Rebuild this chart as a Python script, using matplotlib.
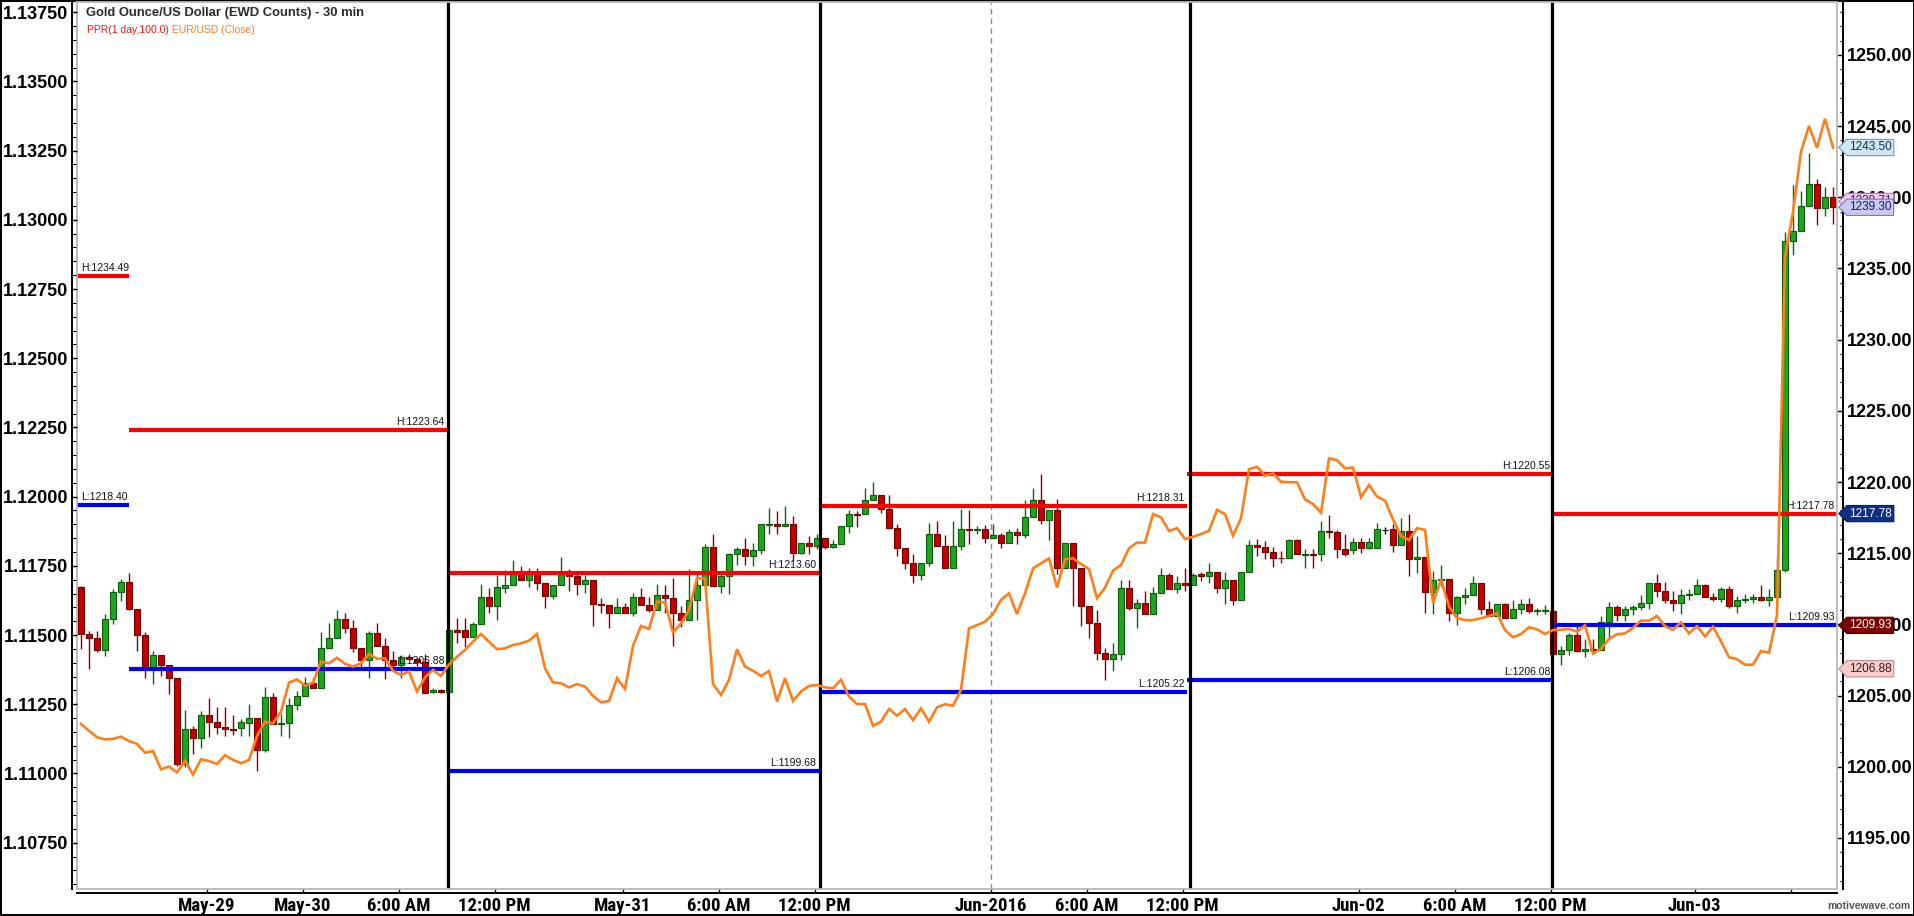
import matplotlib
matplotlib.use("Agg")
import matplotlib.pyplot as plt
from matplotlib import font_manager
from matplotlib.path import Path
from matplotlib.patches import Rectangle
from matplotlib.transforms import blended_transform_factory
from matplotlib.ticker import FixedLocator, MultipleLocator, FormatStrFormatter
import numpy as np

# ---------------- data (Gold 30-min OHLC, bar index 0..219) ----------------
opens = [
    1212.63, 1209.30, 1209.02, 1208.18, 1210.36, 1212.28, 1212.96, 1211.06, 1209.23, 1206.89,
    1207.83, 1207.12, 1206.21, 1200.17, 1202.63, 1202.04, 1203.64, 1203.17, 1202.82, 1202.67,
    1202.70, 1203.10, 1203.40, 1201.18, 1204.90, 1203.03, 1203.10, 1204.34, 1204.97, 1205.86,
    1205.56, 1208.32, 1209.02, 1210.36, 1209.72, 1208.37, 1207.48, 1209.37, 1208.46, 1207.48,
    1207.12, 1207.71, 1207.55, 1207.38, 1205.25, 1205.37, 1205.22, 1209.58, 1209.58, 1209.11,
    1210.00, 1211.92, 1211.27, 1212.58, 1212.74, 1213.52, 1213.09, 1213.70, 1212.88, 1211.97,
    1212.74, 1213.47, 1213.37, 1212.86, 1213.09, 1211.41, 1211.34, 1210.82, 1211.20, 1210.82,
    1211.90, 1211.34, 1210.99, 1212.04, 1211.88, 1210.82, 1210.28, 1211.69, 1212.77, 1215.44,
    1212.70, 1213.40, 1214.97, 1215.27, 1214.80, 1215.20, 1216.98, 1217.03, 1216.89, 1217.03,
    1215.04, 1215.74, 1215.51, 1216.04, 1215.44, 1215.63, 1216.91, 1217.73, 1217.73, 1218.72,
    1219.09, 1218.08, 1216.80, 1215.34, 1214.34, 1213.45, 1214.34, 1216.33, 1215.51, 1213.99,
    1215.51, 1216.68, 1216.61, 1216.68, 1216.05, 1216.26, 1215.74, 1216.49, 1216.26, 1217.55,
    1218.72, 1217.31, 1218.01, 1213.99, 1215.74, 1213.99, 1211.29, 1210.12, 1208.01, 1207.55,
    1207.90, 1212.58, 1211.18, 1211.53, 1210.75, 1212.23, 1213.45, 1212.51, 1212.93, 1212.74,
    1213.51, 1213.40, 1213.68, 1212.53, 1213.09, 1211.69, 1213.68, 1215.55, 1215.46, 1215.08,
    1214.68, 1214.64, 1215.90, 1214.87, 1214.92, 1214.92, 1216.56, 1216.49, 1215.27, 1215.20,
    1215.78, 1215.39, 1215.39, 1216.60, 1216.67, 1215.57, 1216.56, 1214.57, 1214.73, 1212.29,
    1213.09, 1213.16, 1210.82, 1211.92, 1212.06, 1212.88, 1211.05, 1210.58, 1211.40, 1210.47,
    1211.05, 1211.40, 1210.94, 1210.94, 1210.96, 1207.95, 1208.20, 1209.23, 1208.13, 1208.28,
    1208.18, 1210.19, 1211.22, 1210.65, 1211.11, 1211.22, 1211.47, 1212.91, 1212.32, 1211.68,
    1211.47, 1212.07, 1212.14, 1212.76, 1211.89, 1211.81, 1212.45, 1211.29, 1211.68, 1211.81,
    1211.89, 1211.68, 1211.89, 1213.79, 1236.90, 1237.60, 1239.40, 1240.95, 1239.22, 1240.00,
]
highs = [
    1212.70, 1209.54, 1209.54, 1210.71, 1212.51, 1213.17, 1213.60, 1211.06, 1209.49, 1208.13,
    1207.83, 1207.12, 1206.21, 1203.96, 1202.86, 1203.92, 1204.85, 1204.22, 1204.22, 1203.64,
    1203.33, 1204.38, 1203.40, 1205.60, 1205.16, 1203.73, 1204.81, 1205.32, 1206.31, 1206.21,
    1209.49, 1210.12, 1211.01, 1210.83, 1210.29, 1208.37, 1209.54, 1210.08, 1209.02, 1208.13,
    1207.85, 1207.90, 1207.67, 1207.90, 1205.56, 1205.45, 1209.58, 1210.47, 1210.42, 1210.17,
    1212.81, 1212.58, 1213.47, 1213.80, 1214.50, 1214.10, 1213.94, 1213.94, 1212.88, 1212.74,
    1214.73, 1213.87, 1213.70, 1213.47, 1213.09, 1211.83, 1211.34, 1211.83, 1211.48, 1212.18,
    1212.53, 1211.92, 1212.81, 1212.77, 1213.23, 1211.29, 1213.87, 1213.56, 1215.62, 1216.37,
    1213.70, 1215.04, 1215.44, 1216.09, 1215.74, 1217.03, 1218.15, 1217.97, 1218.31, 1217.61,
    1215.74, 1216.21, 1216.33, 1216.04, 1215.91, 1216.91, 1218.01, 1217.97, 1219.56, 1220.00,
    1219.09, 1219.09, 1217.03, 1215.34, 1214.97, 1214.34, 1217.15, 1217.26, 1216.28, 1217.26,
    1218.08, 1218.01, 1216.91, 1216.96, 1217.03, 1216.45, 1216.73, 1216.80, 1218.72, 1219.56,
    1220.55, 1218.01, 1218.79, 1215.74, 1215.74, 1213.99, 1211.29, 1210.99, 1208.37, 1208.72,
    1213.10, 1213.10, 1211.76, 1212.35, 1212.63, 1213.94, 1213.63, 1213.40, 1213.94, 1213.63,
    1213.70, 1214.33, 1213.68, 1213.68, 1213.09, 1213.68, 1215.90, 1215.97, 1215.85, 1215.43,
    1215.15, 1215.97, 1215.97, 1215.27, 1215.27, 1217.26, 1217.68, 1216.60, 1216.37, 1216.09,
    1216.09, 1216.09, 1217.14, 1216.84, 1217.03, 1217.49, 1217.78, 1216.21, 1214.73, 1213.75,
    1214.17, 1213.16, 1211.99, 1212.58, 1213.40, 1212.88, 1211.64, 1211.40, 1211.52, 1211.69,
    1211.76, 1211.87, 1211.17, 1211.36, 1211.00, 1208.46, 1209.36, 1210.08, 1208.98, 1208.98,
    1210.60, 1211.55, 1211.37, 1211.29, 1211.37, 1212.07, 1212.91, 1213.53, 1212.97, 1212.32,
    1212.50, 1212.50, 1213.17, 1212.84, 1212.19, 1212.66, 1212.71, 1211.99, 1212.14, 1212.14,
    1212.76, 1212.50, 1214.64, 1237.55, 1240.89, 1240.43, 1243.08, 1241.28, 1240.71, 1240.71,
]
lows = [
    1208.30, 1206.84, 1208.06, 1207.78, 1210.05, 1211.64, 1210.99, 1208.13, 1206.26, 1205.84,
    1206.37, 1205.13, 1200.03, 1199.98, 1200.87, 1201.34, 1202.09, 1202.28, 1202.16, 1202.21,
    1202.16, 1202.16, 1199.68, 1201.06, 1203.03, 1202.16, 1202.00, 1203.96, 1204.97, 1205.56,
    1205.56, 1208.32, 1209.02, 1209.42, 1208.06, 1206.96, 1206.21, 1208.46, 1206.14, 1206.84,
    1206.26, 1207.55, 1207.08, 1205.20, 1205.16, 1205.20, 1205.22, 1208.71, 1208.43, 1209.11,
    1210.00, 1210.82, 1210.33, 1212.23, 1212.74, 1213.09, 1212.65, 1212.39, 1211.17, 1211.76,
    1212.74, 1212.34, 1212.04, 1212.23, 1209.89, 1210.82, 1209.72, 1210.82, 1210.82, 1210.59,
    1211.34, 1210.89, 1210.99, 1210.82, 1208.48, 1209.81, 1210.28, 1210.28, 1212.77, 1212.70,
    1212.23, 1212.16, 1214.17, 1214.17, 1214.10, 1214.97, 1216.37, 1216.37, 1216.89, 1214.45,
    1214.97, 1214.97, 1215.27, 1215.27, 1215.34, 1215.63, 1216.45, 1216.87, 1217.73, 1218.72,
    1217.80, 1216.68, 1214.81, 1213.92, 1212.93, 1213.10, 1214.10, 1215.51, 1213.99, 1213.99,
    1215.20, 1215.67, 1216.37, 1215.74, 1216.05, 1215.39, 1215.74, 1215.67, 1216.05, 1217.55,
    1217.03, 1215.91, 1213.52, 1213.99, 1211.29, 1209.89, 1209.07, 1207.48, 1206.08, 1206.73,
    1207.48, 1210.99, 1209.77, 1210.75, 1210.75, 1212.23, 1212.51, 1212.23, 1212.35, 1212.74,
    1213.04, 1212.93, 1212.22, 1211.40, 1211.34, 1211.69, 1213.68, 1214.80, 1214.57, 1214.03,
    1214.33, 1214.64, 1214.92, 1213.93, 1213.93, 1214.45, 1216.04, 1214.64, 1214.80, 1214.92,
    1215.03, 1215.27, 1215.34, 1216.32, 1215.11, 1215.57, 1213.40, 1213.63, 1210.82, 1210.70,
    1212.69, 1210.23, 1209.93, 1211.40, 1212.06, 1210.70, 1210.58, 1210.58, 1210.47, 1210.47,
    1210.70, 1210.82, 1210.66, 1210.70, 1207.90, 1207.17, 1207.82, 1208.08, 1207.69, 1208.08,
    1208.18, 1209.11, 1210.26, 1210.26, 1210.65, 1211.04, 1211.11, 1211.89, 1211.47, 1210.96,
    1210.70, 1211.68, 1212.14, 1211.89, 1211.63, 1211.55, 1211.17, 1210.78, 1211.47, 1211.47,
    1211.63, 1211.29, 1211.89, 1213.69, 1235.93, 1237.60, 1239.40, 1238.06, 1238.66, 1238.14,
]
closes = [
    1209.30, 1209.02, 1208.18, 1210.36, 1212.28, 1212.96, 1211.06, 1209.23, 1206.89, 1207.83,
    1207.12, 1206.21, 1200.17, 1202.63, 1202.04, 1203.64, 1203.17, 1202.82, 1202.67, 1202.61,
    1203.14, 1203.40, 1201.18, 1204.90, 1203.03, 1203.10, 1204.34, 1204.97, 1205.86, 1205.56,
    1208.32, 1209.02, 1210.36, 1209.72, 1208.37, 1207.48, 1209.37, 1208.46, 1207.48, 1207.12,
    1207.71, 1207.55, 1207.38, 1205.20, 1205.37, 1205.25, 1209.58, 1209.49, 1209.11, 1210.00,
    1211.92, 1211.27, 1212.62, 1212.74, 1213.52, 1213.09, 1213.70, 1212.88, 1211.97, 1212.74,
    1213.52, 1213.37, 1212.86, 1213.09, 1211.41, 1211.34, 1210.82, 1211.20, 1210.82, 1211.90,
    1211.34, 1210.99, 1212.04, 1211.88, 1210.82, 1210.28, 1211.69, 1212.77, 1215.44, 1212.70,
    1213.40, 1214.97, 1215.27, 1214.80, 1215.20, 1217.03, 1217.03, 1216.89, 1217.03, 1215.04,
    1215.74, 1215.51, 1216.04, 1215.44, 1215.63, 1216.91, 1217.73, 1217.66, 1218.72, 1219.09,
    1218.08, 1216.80, 1215.34, 1214.34, 1213.45, 1214.34, 1216.33, 1215.51, 1213.99, 1215.51,
    1216.68, 1216.61, 1216.68, 1216.05, 1216.26, 1215.74, 1216.49, 1216.26, 1217.55, 1218.72,
    1217.31, 1218.01, 1213.99, 1215.74, 1213.99, 1211.29, 1210.12, 1208.01, 1207.55, 1207.90,
    1212.58, 1211.18, 1211.53, 1210.75, 1212.23, 1213.45, 1212.51, 1212.93, 1212.74, 1213.45,
    1213.40, 1213.68, 1212.53, 1213.09, 1211.69, 1213.68, 1215.55, 1215.46, 1215.08, 1214.68,
    1214.64, 1215.90, 1214.92, 1214.92, 1214.87, 1216.56, 1216.49, 1215.27, 1214.92, 1215.78,
    1215.39, 1215.78, 1216.67, 1216.60, 1215.57, 1216.56, 1214.57, 1214.73, 1212.29, 1213.09,
    1213.16, 1210.82, 1211.92, 1212.06, 1212.88, 1211.05, 1210.58, 1211.40, 1210.47, 1211.05,
    1211.40, 1210.94, 1210.98, 1210.98, 1207.95, 1208.20, 1209.23, 1208.13, 1208.28, 1208.18,
    1210.19, 1211.22, 1210.65, 1211.11, 1211.22, 1211.47, 1212.91, 1212.32, 1211.68, 1211.47,
    1212.07, 1212.14, 1212.76, 1211.89, 1211.81, 1212.45, 1211.29, 1211.68, 1211.81, 1211.89,
    1211.68, 1211.89, 1213.79, 1236.90, 1237.60, 1239.40, 1240.95, 1239.22, 1240.00, 1239.30,
]
# EUR/USD close (left axis)
eurusd = [
    1.11179, 1.11154, 1.11131, 1.11123, 1.11125, 1.11133, 1.11117, 1.11107, 1.11075, 1.11081,
    1.11015, 1.11025, 1.11004, 1.11046, 1.10996, 1.11051, 1.11045, 1.11034, 1.11066, 1.11049,
    1.11037, 1.11049, 1.11135, 1.11187, 1.11181, 1.11223, 1.11328, 1.11340, 1.11317, 1.11328,
    1.11404, 1.11398, 1.11418, 1.11396, 1.11386, 1.11398, 1.11432, 1.11414, 1.11416, 1.11371,
    1.11356, 1.11368, 1.11296, 1.11347, 1.11374, 1.11352, 1.11394, 1.11422, 1.11446, 1.11476,
    1.11504, 1.11476, 1.11449, 1.11452, 1.11464, 1.11470, 1.11480, 1.11504, 1.11380, 1.11329,
    1.11326, 1.11311, 1.11323, 1.11314, 1.11280, 1.11257, 1.11262, 1.11344, 1.11305, 1.11461,
    1.11533, 1.11522, 1.11621, 1.11618, 1.11509, 1.11542, 1.11591, 1.11705, 1.11705, 1.11323,
    1.11284, 1.11338, 1.11449, 1.11386, 1.11371, 1.11352, 1.11370, 1.11260, 1.11344, 1.11262,
    1.11296, 1.11316, 1.11320, 1.11311, 1.11308, 1.11338, 1.11278, 1.11251, 1.11251, 1.11172,
    1.11187, 1.11233, 1.11209, 1.11233, 1.11193, 1.11235, 1.11187, 1.11239, 1.11250, 1.11245,
    1.11302, 1.11524, 1.11536, 1.11548, 1.11576, 1.11627, 1.11651, 1.11576, 1.11651, 1.11741,
    1.11759, 1.11777, 1.11672, 1.11774, 1.11777, 1.11757, 1.11738, 1.11633, 1.11671, 1.11733,
    1.11753, 1.11813, 1.11834, 1.11834, 1.11937, 1.11925, 1.11876, 1.11886, 1.11847, 1.11855,
    1.11865, 1.11877, 1.11952, 1.11937, 1.11859, 1.11922, 1.12099, 1.12108, 1.12076, 1.12084,
    1.12054, 1.12052, 1.12052, 1.11990, 1.11973, 1.11942, 1.12138, 1.12132, 1.12102, 1.12105,
    1.11998, 1.12042, 1.12000, 1.11986, 1.11918, 1.11858, 1.11843, 1.11886, 1.11880, 1.11615,
    1.11701, 1.11603, 1.11561, 1.11554, 1.11554, 1.11561, 1.11569, 1.11578, 1.11518, 1.11492,
    1.11504, 1.11528, 1.11521, 1.11504, 1.11518, 1.11519, 1.11522, 1.11512, 1.11535, 1.11433,
    1.11450, 1.11486, 1.11503, 1.11506, 1.11526, 1.11552, 1.11552, 1.11569, 1.11532, 1.11519,
    1.11546, 1.11506, 1.11532, 1.11495, 1.11530, 1.11477, 1.11420, 1.11413, 1.11393, 1.11393,
    1.11442, 1.11436, 1.11572, 1.12863, 1.13028, 1.13246, 1.13339, 1.13260, 1.13365, 1.13261,
]

# PPR (prior period range) levels per session
ppr_high = [1234.49, 1223.64, 1213.60, 1218.31, 1220.55, 1217.78]
ppr_low = [1218.40, 1206.88, 1199.68, 1205.22, 1206.08, 1209.93]
ppr_edges = [-0.5, 6.0, 45.8, 92.2, 138.3, 184.0, 219.5]
session_lines = [45.9, 92.4, 138.6, 183.9]
month_line = 113.7

# x ticks (bar positions) and labels
tick_pos = [15.7, 27.7, 39.7, 51.7, 67.7, 79.7, 91.7, 113.7, 125.7, 137.7,
            159.7, 171.7, 183.7, 201.7, 213.7]
tick_labels = ["May-29", "May-30", "6:00 AM", "12:00 PM", "May-31", "6:00 AM",
               "12:00 PM", "Jun-2016", "6:00 AM", "12:00 PM", "Jun-02", "6:00 AM",
               "12:00 PM", "Jun-03", ""]

gold_ticks = [1195, 1200, 1205, 1210, 1215, 1220, 1225, 1230, 1235, 1240, 1245, 1250]
eur_ticks = [1.10750, 1.11000, 1.11250, 1.11500, 1.11750, 1.12000, 1.12250,
             1.12500, 1.12750, 1.13000, 1.13250, 1.13500, 1.13750]

# right-axis price tags: value, face, edge, text colour
tag_values = [1243.50, 1239.71, 1239.30, 1217.78, 1209.93, 1206.88]
tag_faces = ["#cfe7f5", "#f6c9f1", "#c9c9f7", "#0d2f86", "#7d0000", "#f8cccc"]
tag_edges = ["#6d9ab8", "#b77ab2", "#7676c2", "#0a2060", "#500000", "#c48a8a"]
tag_texts = ["#15304a", "#402040", "#1a1a50", "#ffffff", "#ffffff", "#3a1a1a"]

# ---------------- fonts ----------------
PX = 0.72  # points per pixel at dpi 100
entries = font_manager.fontManager.ttflist
names = {f.name for f in entries}
plt.rcParams["font.family"] = ["Liberation Sans", "DejaVu Sans"]

narrow_fp = None
for nm in ("Liberation Sans Narrow", "Arial Narrow", "Roboto Condensed",
           "Open Sans Condensed", "Nimbus Sans Narrow", "DejaVu Sans Condensed"):
    if nm in names:
        narrow_fp = font_manager.FontProperties(family=nm, weight="bold", size=13.5)
        break
if narrow_fp is None:
    cond = [f for f in entries if str(f.stretch) in ("condensed", "semi-condensed")
            and f.name in ("DejaVu Sans", "Open Sans", "Roboto", "Noto Sans", "Liberation Sans")]
    if cond:
        narrow_fp = font_manager.FontProperties(family=cond[0].name, weight="bold",
                                                stretch=cond[0].stretch, size=12)
if narrow_fp is None:
    narrow_fp = font_manager.FontProperties(family="Liberation Sans", weight="bold", size=11.5)
axis_fp = font_manager.FontProperties(family="Liberation Sans", weight="bold", size=13)

# ---------------- figure ----------------
W, H = 1915, 916
fig = plt.figure(figsize=(W / 100, H / 100), dpi=100)
fig.patch.set_facecolor("white")
fig.patch.set_edgecolor("black")
fig.patch.set_linewidth(1.5)

ax = fig.add_axes([77 / W, (H - 889) / H, 1760 / W, 887 / H])
ax2 = ax.twinx()

n = len(opens)
bars = np.arange(n)
o = np.array(opens); c = np.array(closes); h = np.array(highs); l = np.array(lows)

ax.set_xlim(-0.5, n - 0.5)
ax.set_ylim(1191.41, 1253.72)
ax2.set_ylim(1.105827, 1.137868)

up = c > o
down = c < o
body_col = np.where(up, "#1fa51f", np.where(down, "#c40000", "#000000"))
edge_col = np.where(up, "#0b5a0b", np.where(down, "#6e0000", "#000000"))
wick_col = np.where(up, "#0b650b", np.where(down, "#870000", "#000000"))

ax.vlines(bars, l, h, colors=wick_col, lw=1.0, zorder=2)
ax.bar(bars, c - o, bottom=o, width=0.72, color=body_col, edgecolor=edge_col,
       linewidth=0.8, zorder=3)

# PPR lines and labels
for k in range(len(ppr_high)):
    x0, x1 = ppr_edges[k], ppr_edges[k + 1]
    ax.hlines(ppr_high[k], x0, x1, colors="#ff0000", lw=3.0, zorder=4)
    ax.hlines(ppr_low[k], x0, x1, colors="#0000ff", lw=3.0, zorder=4)
    for val, pre in ((ppr_high[k], "H:"), (ppr_low[k], "L:")):
        if k == 0:
            ax.annotate(f"{pre}{val:.2f}", xy=(x0, val), xytext=(3, 2.2),
                        textcoords="offset points", ha="left", va="bottom",
                        fontsize=7.5, color="#111111", zorder=6)
        else:
            ax.annotate(f"{pre}{val:.2f}", xy=(x1, val), xytext=(-2, 2.2),
                        textcoords="offset points", ha="right", va="bottom",
                        fontsize=7.5, color="#111111", zorder=6)

for xl in session_lines:
    ax.axvline(xl, color="black", lw=2.3, zorder=5)
ax.axvline(month_line, color="#8a8a8a", lw=1.0, ls=(0, (4, 3)), zorder=1)

# EUR/USD line on left axis
ax2.plot(bars, eurusd, color="#ff7d1a", lw=1.9, zorder=3, solid_joinstyle="miter")

# plot frame
ax.add_patch(Rectangle((0, 0), 1, 1, transform=ax.transAxes, fill=False,
                       ec="#b8b8b8", lw=1.3, zorder=7, clip_on=False))

# ---------------- axes styling ----------------
for s in ("left", "top"):
    ax.spines[s].set_visible(False)
for s in ("right", "top", "bottom"):
    ax2.spines[s].set_visible(False)
ax.spines["right"].set_position(("outward", 6 * PX))
ax.spines["bottom"].set_position(("outward", 4 * PX))
ax2.spines["left"].set_position(("outward", 5 * PX))
for sp in (ax.spines["right"], ax.spines["bottom"], ax2.spines["left"]):
    sp.set_color("black"); sp.set_linewidth(1.4)

ax.yaxis.tick_right()
ax.yaxis.set_major_locator(FixedLocator(gold_ticks))
ax.yaxis.set_minor_locator(MultipleLocator(1.0))
ax.yaxis.set_major_formatter(FormatStrFormatter("%.2f"))
ax.tick_params(axis="y", which="major", direction="in", length=6 * PX, width=1.0, pad=4 * PX)
ax.tick_params(axis="y", which="minor", direction="in", length=3.5 * PX, width=0.8)
for t in ax.get_yticklabels():
    t.set_fontproperties(axis_fp)

ax2.yaxis.tick_left()
ax2.yaxis.set_major_locator(FixedLocator(eur_ticks))
ax2.yaxis.set_minor_locator(MultipleLocator(0.0005))
ax2.yaxis.set_major_formatter(FormatStrFormatter("%.5f"))
ax2.tick_params(axis="y", which="major", direction="in", length=5 * PX, width=1.0, pad=4 * PX)
ax2.tick_params(axis="y", which="minor", direction="in", length=3.5 * PX, width=0.8)
for t in ax2.get_yticklabels():
    t.set_fontproperties(axis_fp)

ax.set_xticks(tick_pos)
ax.set_xticklabels(tick_labels, fontproperties=narrow_fp)
ax.tick_params(axis="x", which="major", direction="in", length=5 * PX, width=1.0, pad=4 * PX)
ax2.tick_params(axis="x", bottom=False, labelbottom=False)

# ---------------- price tags on right axis ----------------
def tag_box(x0, y0, width, height, mutation_size):
    pad = 0.18 * mutation_size
    x0 -= pad; y0 -= pad; width += 2 * pad; height += 2 * pad
    tip = height * 0.5
    verts = [(x0 - tip, y0 + height / 2), (x0, y0), (x0 + width, y0),
             (x0 + width, y0 + height), (x0, y0 + height), (x0 - tip, y0 + height / 2)]
    return Path(verts, closed=True)

btf = blended_transform_factory(ax.transAxes, ax.transData)
for val, fc, ec, tc in zip(tag_values, tag_faces, tag_edges, tag_texts):
    ax.text(1.0068, val, f"{val:.2f}", transform=btf, ha="left", va="center",
            fontsize=8.5, color=tc, zorder=20, clip_on=False,
            bbox=dict(boxstyle=tag_box, fc=fc, ec=ec, lw=0.8))

# ---------------- header texts ----------------
fig.text(86 / W, 1 - 13 / H, "Gold Ounce/US Dollar (EWD Counts) - 30 min",
         fontsize=9.4, fontweight="bold", color="#2a2a2a", ha="left", va="center")
t1 = fig.text(87 / W, 1 - 30 / H, "PPR(1 day,100.0)", fontsize=7.5, color="#ff1010",
              ha="left", va="center")
ax.annotate(" EUR/USD (Close)", xy=(1, 0), xycoords=t1, ha="left", va="bottom",
            fontsize=7.5, color="#ff7d1a", annotation_clip=False)
fig.text(1910 / W, 1 - 906 / H, "motivewave.com", fontsize=7.5, fontweight="bold",
         color="#555555", ha="right", va="center")

fig.savefig("out.png", dpi=100, facecolor="white", edgecolor="black")
